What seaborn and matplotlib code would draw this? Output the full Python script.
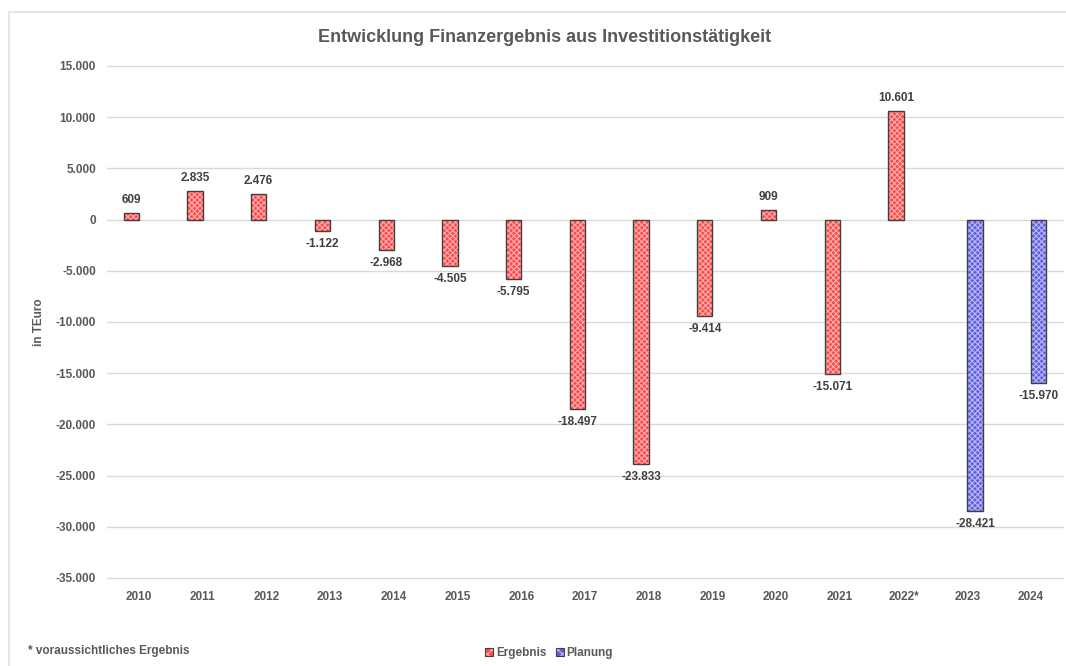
import numpy as np
import pandas as pd
import matplotlib
matplotlib.use("Agg")
import matplotlib.pyplot as plt
from matplotlib.patches import Rectangle
import seaborn as sns

years = ["2010", "2011", "2012", "2013", "2014", "2015", "2016", "2017",
         "2018", "2019", "2020", "2021", "2022*", "2023", "2024"]
ergebnis = [609, 2835, 2476, -1122, -2968, -4505, -5795, -18497,
            -23833, -9414, 909, -15071, 10601, np.nan, np.nan]
planung = [np.nan] * 13 + [-28421, -15970]
series_names = ["Ergebnis", "Planung"]
y_ticks = list(range(-35000, 15001, 5000))

df = pd.DataFrame({
    "Jahr": years * 2,
    "Wert": ergebnis + planung,
    "Serie": [series_names[0]] * len(years) + [series_names[1]] * len(years),
})

sns.set_theme(style="white")
plt.rcParams["font.family"] = ["Liberation Sans", "DejaVu Sans"]
plt.rcParams["hatch.linewidth"] = 0.8

fig = plt.figure(figsize=(10.66, 6.66), dpi=100)
ax = fig.add_axes([107 / 1066, 1 - 578 / 666, (1063 - 107) / 1066, (578 - 66) / 666])

face = {"Ergebnis": "#FF4A4A", "Planung": "#6060DC"}
hatchc = {"Ergebnis": "#FFB0B0", "Planung": "#B8B8FF"}

sns.barplot(data=df, x="Jahr", y="Wert", hue="Serie", order=years,
            hue_order=series_names, palette=face, width=0.48, dodge=True,
            ax=ax, legend=False, saturation=1)

fmt = lambda v: f"{v:,.0f}".replace(",", ".")
for cont, name in zip(ax.containers, series_names):
    for p in cont.patches:
        p.set_hatch("xxxxxx")
        p.set_edgecolor(hatchc[name])
        p.set_linewidth(0)
        ax.add_patch(Rectangle(p.get_xy(), p.get_width(), p.get_height(),
                               fill=False, edgecolor="#404040", linewidth=1.0,
                               zorder=p.get_zorder() + 0.1))
    vals = cont.datavalues
    labels = ["" if np.isnan(v) else fmt(v) for v in vals]
    ax.bar_label(cont, labels=labels, padding=5, fontsize=8.5,
                 color="#404040", fontweight="bold", clip_on=False)

ax.set_ylim(-35000, 15000)
ax.set_xlim(-0.5, len(years) - 0.5)
ax.set_yticks(y_ticks)
ax.set_yticklabels([fmt(v) for v in y_ticks])
ax.yaxis.grid(True, color="#D9D9D9", linewidth=1.0)
for gl in ax.yaxis.get_gridlines():
    gl.set_clip_on(False)
ax.set_axisbelow(True)
for s in ax.spines.values():
    s.set_visible(False)
ax.tick_params(axis="both", length=0, labelsize=8.5, labelcolor="#595959")
ax.tick_params(axis="y", pad=8)
ax.tick_params(axis="x", pad=9)
for t in ax.get_xticklabels() + ax.get_yticklabels():
    t.set_fontweight("bold")
ax.set_xlabel("")
ax.set_ylabel("in TEuro", fontsize=8.5, color="#595959", fontweight="bold")
ax.yaxis.set_label_coords(-62 / 956, 0.5)

fig.text(545 / 1066, 1 - 38 / 666, "Entwicklung Finanzergebnis aus Investitionstätigkeit",
         ha="center", va="center", fontsize=13, fontweight="bold", color="#595959")
fig.text(28 / 1066, 1 - 651 / 666, "* voraussichtliches Ergebnis", ha="left",
         va="center", fontsize=8.5, fontweight="bold", color="#595959")

handles = []
for n in series_names:
    h = Rectangle((0, 0), 1, 1, facecolor=face[n], edgecolor="#404040",
                  hatch="xxxx", linewidth=0.8)
    h._hatch_color = matplotlib.colors.to_rgba(hatchc[n])
    handles.append(h)
leg = fig.legend(handles, series_names, loc="center", bbox_to_anchor=(549 / 1066, 1 - 653 / 666),
                 ncol=2, frameon=False, fontsize=8.5, handlelength=0.7,
                 handleheight=0.7, handletextpad=0.2, columnspacing=0.8)
for t in leg.get_texts():
    t.set_color("#595959")
    t.set_fontweight("bold")

fig.add_artist(Rectangle((9 / 1066, -0.05), 1.1, 1 - 12 / 666 + 0.05,
                         transform=fig.transFigure, fill=False,
                         edgecolor="#E0E0E0", linewidth=1.2))

fig.savefig("out.png", dpi=100)
